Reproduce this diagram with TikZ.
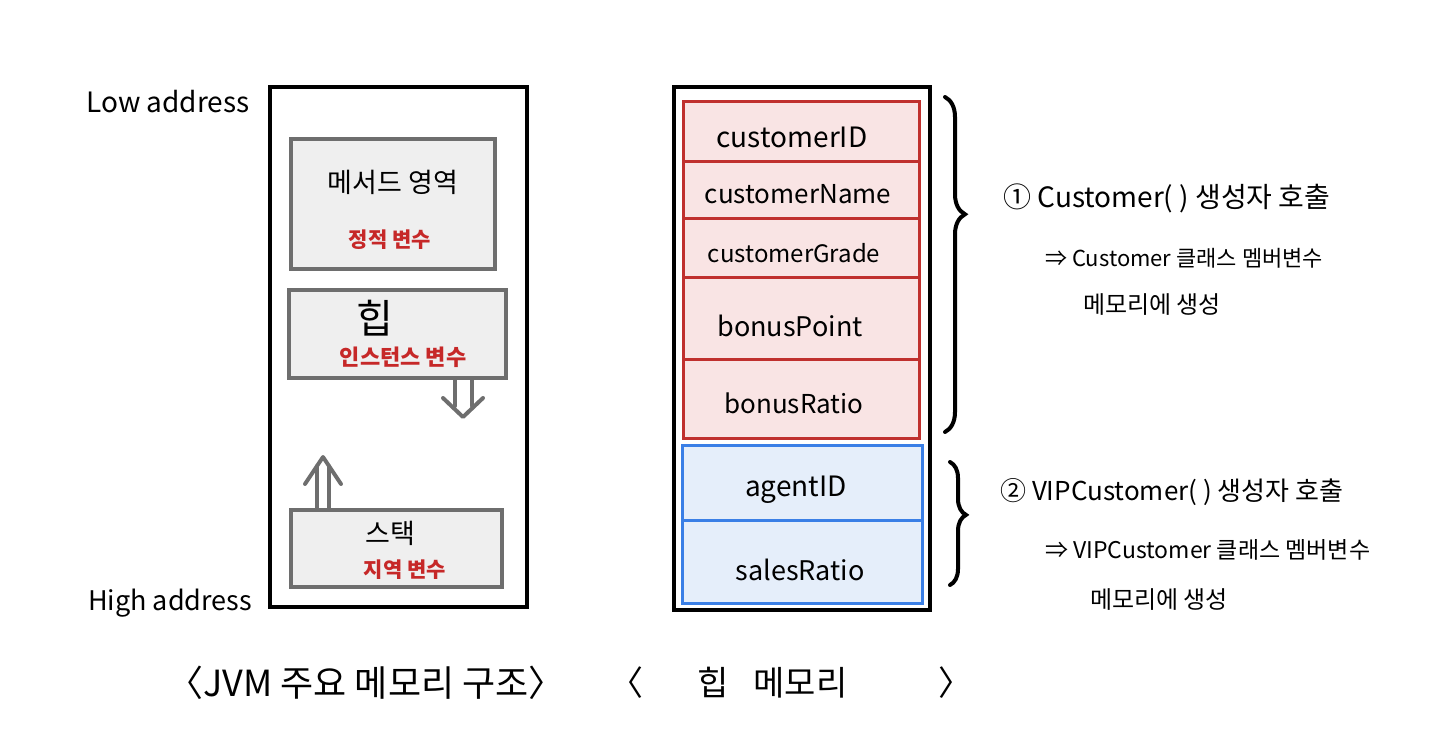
\documentclass[tikz,border=0pt]{standalone}
\usepackage{fontspec}
\setmainfont{Noto Sans CJK KR}
\usetikzlibrary{arrows.meta,decorations.pathreplacing}

\definecolor{boxgray}{HTML}{6E6E6E}
\definecolor{boxfill}{HTML}{EFEFEF}
\definecolor{varred}{HTML}{C62828}
\definecolor{rowred}{HTML}{C0302E}
\definecolor{rowredfill}{HTML}{F9E4E4}
\definecolor{rowblue}{HTML}{3A7FE6}
\definecolor{rowbluefill}{HTML}{E5EEFA}

\tikzset{
  outerbox/.style={draw=black,line width=4pt},
  areabox/.style={draw=boxgray,fill=boxfill,line width=4pt,inner sep=0pt},
  redrow/.style={draw=rowred,fill=rowredfill,line width=3pt,minimum width=236pt,inner sep=0pt},
  bluerow/.style={draw=rowblue,fill=rowbluefill,line width=3pt,minimum width=240pt,inner sep=0pt},
  hollowarrow/.style={draw=boxgray,line width=4pt,line cap=round,line join=round},
  curly/.style={decorate,draw=black,line width=4pt,line cap=round},
  txt/.style={font=\fontsize{#1}{#1}\selectfont,inner sep=0pt},
  redtxt/.style={txt=#1,text=varred,font=\fontsize{#1}{#1}\selectfont\bfseries}
}

\begin{document}
\begin{tikzpicture}[x=1pt,y=-1pt]
\useasboundingbox (0,0) rectangle (1440,747);

% JVM memory structure
\draw [outerbox] (270,87) rectangle (527,607);
\node [txt=28] (low) at (168,102) {Low address};
\node [txt=27] (high) at (170,603) {High address};

\node [areabox,minimum width=204pt,minimum height=130pt] (method) at (393,204) {};
\node [txt=27] (methodname) at (393,182) {메서드 영역};
\node [redtxt=21] (methodvar) at (390,240) {정적 변수};

\node [areabox,minimum width=217pt,minimum height=88pt] (heap) at (397.5,334) {};
\node [txt=40] (heapname) at (375,318) {힙};
\node [redtxt=22] (heapvar) at (403,357) {인스턴스 변수};

\node [areabox,minimum width=211pt,minimum height=77pt] (stack) at (396.5,548.5) {};
\node [txt=27] (stackname) at (390,533) {스택};
\node [redtxt=21] (stackvar) at (405,570) {지역 변수};

% growth arrows
\coordinate (downtip) at (463,417);
\draw [hollowarrow] (455,380) -- (455,406) (472,380) -- (472,406);
\draw [hollowarrow] (443,398) -- (downtip) -- (483,398);
\coordinate (uptip) at (323,457);
\draw [hollowarrow] (317,508) -- (317,466) (329,508) -- (329,466);
\draw [hollowarrow] (305,484) -- (uptip) -- (341,484);

\node [txt=36] (jvmcap) at (366,683) {〈JVM 주요 메모리 구조〉};

% heap memory
\draw [outerbox] (674,87) rectangle (930,610);
\node [redrow,minimum height=60pt] (cid) at (801,131) {};
\node [redrow,minimum height=57pt] (cname) at (801,189.5) {};
\node [redrow,minimum height=59pt] (cgrade) at (801,247.5) {};
\node [redrow,minimum height=82pt] (bpoint) at (801,318) {};
\node [redrow,minimum height=79pt] (bratio) at (801,398.5) {};
\node [bluerow,minimum height=75pt] (aid) at (802,482.5) {};
\node [bluerow,minimum height=83pt] (sratio) at (802,561.5) {};

\node [txt=28] at (792,137) {customerID};
\node [txt=26] at (798,194) {customerName};
\node [txt=24] at (794,253) {customerGrade};
\node [txt=27] at (790,326) {bonusPoint};
\node [txt=26] at (794,403) {bonusRatio};
\node [txt=28] at (796,490) {agentID};
\node [txt=27] at (800,570) {salesRatio};

\node [txt=34] (heapcap) at (791,683) {〈\hspace{54pt}힙\hspace{25pt}메모리\hspace{91pt}〉};

% constructor calls
\draw [curly,decoration={brace,amplitude=20pt,aspect=0.35}] (945,97) -- (945,432);
\draw [curly,decoration={brace,amplitude=16pt,aspect=0.43}] (950,462) -- (950,585);

\node [txt=28,anchor=west] (call1) at (1003,198) {① Customer( ) 생성자 호출};
\node [txt=22,anchor=west] (res1) at (1045,258) {⇒ Customer 클래스 멤버변수};
\node [txt=24,anchor=west] (mem1) at (1083,305) {메모리에 생성};

\node [txt=26,anchor=west] (call2) at (1000,492) {② VIPCustomer( ) 생성자 호출};
\node [txt=23,anchor=west] (res2) at (1045,550) {⇒ VIPCustomer 클래스 멤버변수};
\node [txt=24,anchor=west] (mem2) at (1090,600) {메모리에 생성};
\end{tikzpicture}
\end{document}
